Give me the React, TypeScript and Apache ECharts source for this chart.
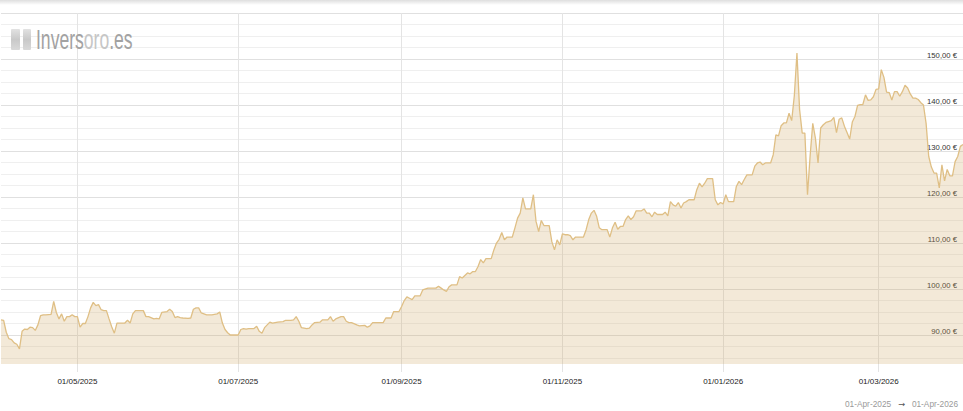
import React, { useEffect, useRef } from "react";
import * as echarts from "echarts";

// ---- data ----
const dates: string[] = [
  "2025-04-02","2025-04-03","2025-04-04","2025-04-05","2025-04-06","2025-04-07","2025-04-08","2025-04-09","2025-04-10","2025-04-11",
  "2025-04-12","2025-04-13","2025-04-14","2025-04-15","2025-04-16","2025-04-17","2025-04-18","2025-04-19","2025-04-21","2025-04-22",
  "2025-04-23","2025-04-24","2025-04-25","2025-04-26","2025-04-27","2025-04-28","2025-04-29","2025-04-30",
  "2025-05-01","2025-05-02","2025-05-03","2025-05-04","2025-05-05","2025-05-06","2025-05-07","2025-05-08","2025-05-09","2025-05-10",
  "2025-05-11","2025-05-12","2025-05-13","2025-05-14","2025-05-15","2025-05-16","2025-05-17","2025-05-19","2025-05-20","2025-05-21",
  "2025-05-22","2025-05-23","2025-05-25","2025-05-26","2025-05-27","2025-05-28","2025-05-30","2025-05-31",
  "2025-06-01","2025-06-02","2025-06-04","2025-06-05","2025-06-06","2025-06-07","2025-06-08","2025-06-09","2025-06-10","2025-06-12",
  "2025-06-13","2025-06-14","2025-06-15","2025-06-16","2025-06-17","2025-06-18","2025-06-19","2025-06-21","2025-06-23","2025-06-24",
  "2025-06-25","2025-06-26","2025-06-27","2025-06-28","2025-06-29",
  "2025-07-01","2025-07-02","2025-07-03","2025-07-04","2025-07-05","2025-07-07","2025-07-08","2025-07-09","2025-07-10","2025-07-11",
  "2025-07-12","2025-07-13","2025-07-14","2025-07-16","2025-07-18","2025-07-19","2025-07-21","2025-07-22","2025-07-23","2025-07-24",
  "2025-07-25","2025-07-27","2025-07-28","2025-07-29","2025-07-30",
  "2025-08-01","2025-08-02","2025-08-04","2025-08-05","2025-08-06","2025-08-07","2025-08-09","2025-08-10","2025-08-11","2025-08-12",
  "2025-08-13","2025-08-15","2025-08-16","2025-08-18","2025-08-19","2025-08-20","2025-08-21","2025-08-23","2025-08-25","2025-08-26",
  "2025-08-28","2025-08-29","2025-08-31",
  "2025-09-01","2025-09-02","2025-09-03","2025-09-04","2025-09-05","2025-09-06","2025-09-08","2025-09-09","2025-09-11","2025-09-12",
  "2025-09-14","2025-09-15","2025-09-16","2025-09-17","2025-09-18","2025-09-19","2025-09-20","2025-09-22","2025-09-23","2025-09-24",
  "2025-09-26","2025-09-27","2025-09-28","2025-09-29","2025-09-30",
  "2025-10-01","2025-10-02","2025-10-03","2025-10-05","2025-10-06","2025-10-07","2025-10-08","2025-10-09","2025-10-10","2025-10-11",
  "2025-10-12","2025-10-13","2025-10-14","2025-10-15","2025-10-16","2025-10-17","2025-10-18","2025-10-19","2025-10-20","2025-10-21",
  "2025-10-22","2025-10-23","2025-10-24","2025-10-25","2025-10-26","2025-10-27","2025-10-28","2025-10-29","2025-10-30","2025-10-31",
  "2025-11-01","2025-11-02","2025-11-03","2025-11-04","2025-11-05","2025-11-06","2025-11-08","2025-11-09","2025-11-10","2025-11-11",
  "2025-11-12","2025-11-13","2025-11-14","2025-11-15","2025-11-16","2025-11-18","2025-11-19","2025-11-20","2025-11-21","2025-11-22",
  "2025-11-23","2025-11-24","2025-11-25","2025-11-26","2025-11-27","2025-11-28","2025-11-29","2025-11-30",
  "2025-12-01","2025-12-02","2025-12-03","2025-12-04","2025-12-05","2025-12-06","2025-12-07","2025-12-08","2025-12-09","2025-12-10",
  "2025-12-11","2025-12-12","2025-12-13","2025-12-14","2025-12-15","2025-12-16","2025-12-17","2025-12-18","2025-12-19","2025-12-20",
  "2025-12-21","2025-12-22","2025-12-23","2025-12-24","2025-12-25","2025-12-26","2025-12-27","2025-12-28","2025-12-29","2025-12-30",
  "2025-12-31",
  "2026-01-01","2026-01-02","2026-01-03","2026-01-04","2026-01-05","2026-01-06","2026-01-07","2026-01-08","2026-01-09","2026-01-10",
  "2026-01-11","2026-01-12","2026-01-13","2026-01-14","2026-01-15","2026-01-16","2026-01-17","2026-01-18","2026-01-19","2026-01-20",
  "2026-01-21","2026-01-22","2026-01-23","2026-01-24","2026-01-25","2026-01-26","2026-01-27","2026-01-28","2026-01-29","2026-01-30",
  "2026-01-31",
  "2026-02-01","2026-02-02","2026-02-03","2026-02-04","2026-02-05","2026-02-06","2026-02-07","2026-02-08","2026-02-09","2026-02-10",
  "2026-02-11","2026-02-12","2026-02-13","2026-02-14","2026-02-15","2026-02-16","2026-02-17","2026-02-18","2026-02-19","2026-02-20",
  "2026-02-21","2026-02-22","2026-02-23","2026-02-24","2026-02-25","2026-02-26","2026-02-27","2026-02-28",
  "2026-03-01","2026-03-02","2026-03-03","2026-03-04","2026-03-05","2026-03-06","2026-03-07","2026-03-08","2026-03-09","2026-03-10",
  "2026-03-11","2026-03-12","2026-03-13","2026-03-14","2026-03-15","2026-03-16","2026-03-17","2026-03-18","2026-03-19","2026-03-20",
  "2026-03-21","2026-03-22","2026-03-23","2026-03-24","2026-03-25","2026-03-26","2026-03-27","2026-03-28","2026-03-29","2026-03-30",
  "2026-03-31","2026-04-01","2026-04-02",
];

const prices: number[] = [
  93.3, 93.2, 90.6, 89.2, 89.0, 88.3, 88.0, 87.0, 90.8, 91.3,
  91.2, 91.7, 91.6, 91.0, 92.2, 94.2, 94.4, 94.4, 94.5, 97.3,
  94.9, 93.5, 94.6, 93.0, 94.0, 94.0, 94.4, 94.0,
  94.0, 91.7, 92.5, 92.5, 94.0, 95.9, 97.1, 96.4, 96.6, 95.5,
  95.3, 95.3, 93.5, 91.8, 90.4, 92.6, 92.6, 92.6, 93.2, 92.6,
  94.6, 95.3, 95.3, 95.3, 94.0, 94.0, 93.5, 93.6,
  93.5, 94.9, 95.1, 95.6, 95.1, 93.8, 94.0, 93.8, 93.7, 93.6,
  93.7, 95.6, 95.9, 95.9, 94.8, 94.6, 94.4, 94.4, 94.6, 95.0,
  92.6, 91.2, 90.5, 90.0, 90.0,
  90.0, 91.2, 91.4, 91.3, 91.4, 91.4, 91.9, 90.8, 90.4, 91.6,
  92.2, 92.8, 92.6, 92.8, 92.9, 93.2, 93.2, 93.3, 94.0, 93.0,
  91.6, 91.4, 91.5, 92.2, 92.7,
  92.8, 93.3, 93.3, 94.0, 93.0, 93.5, 94.0, 94.0, 93.0, 92.7,
  92.7, 92.2, 92.0, 92.1, 91.7, 92.0, 92.7, 92.7, 92.7, 93.7,
  93.7, 95.1, 95.1,
  96.2, 97.5, 98.3, 98.0, 97.7, 98.5, 98.5, 99.8, 100.2, 100.2,
  100.2, 100.6, 100.2, 99.8, 99.5, 100.5, 100.9, 100.9, 102.7, 102.4,
  103.5, 103.3, 103.8, 103.8, 104.9,
  106.4, 105.7, 106.6, 106.6, 108.5, 110.0, 110.8, 112.3, 110.7, 111.3,
  111.3, 111.3, 113.3, 115.4, 116.5, 119.8, 117.4, 117.4, 117.4, 120.5,
  114.7, 112.5, 114.9, 113.8, 113.8, 113.8, 110.3, 108.5, 110.7, 109.6,
  112.0, 111.8, 111.8, 111.6, 110.7, 111.3, 111.3, 111.3, 112.9, 115.1,
  116.5, 117.1, 115.8, 113.3, 112.9, 112.9, 111.3, 113.3, 114.5, 113.0,
  113.6, 113.6, 115.1, 115.9, 115.1, 115.7, 117.0, 117.0,
  117.0, 117.4, 116.5, 116.5, 115.7, 116.7, 116.2, 116.2, 116.2, 116.7,
  115.9, 119.0, 118.3, 118.0, 118.8, 117.6, 118.7, 119.0, 119.4, 119.4,
  119.4, 121.6, 123.0, 122.2, 123.0, 124.0, 124.0, 124.0, 119.4, 118.3,
  118.8,
  118.5, 120.5, 119.0, 119.0, 119.0, 122.3, 123.4, 122.7, 123.8, 124.8,
  124.8, 124.8, 126.7, 127.4, 127.6, 127.0, 127.4, 127.4, 127.4, 129.2,
  133.5, 133.3, 135.5, 136.1, 136.1, 138.2, 136.6, 142.0, 151.3, 139.0,
  133.9,
  133.9, 120.5, 129.0, 136.0, 132.8, 127.4, 135.0, 135.7, 136.2, 136.4,
  136.6, 137.3, 134.0, 136.9, 137.2, 135.4, 134.0, 132.6, 136.3, 137.5,
  139.9, 140.1, 140.1, 142.2, 141.0, 141.1, 141.8, 143.4,
  143.5, 147.7, 146.0, 142.8, 142.7, 141.1, 142.9, 142.9, 141.9, 142.9,
  144.3, 143.7, 142.4, 141.5, 141.5, 141.2, 140.5, 140.0, 136.0, 128.8,
  126.5, 125.2, 125.2, 122.0, 127.0, 123.5, 126.0, 124.6, 124.6, 127.7,
  128.8, 131.0, 131.4,
];

const xRange: string[] = ["2025-04-02", "2026-04-02"];
const xTickDates: string[] = ["2025-05-01", "2025-07-01", "2025-09-01", "2025-11-01", "2026-01-01", "2026-03-01"];
const yRange: number[] = [83.7, 160];
const yGridValues: number[] = [
  85, 87.5, 90, 92.5, 95, 97.5, 100, 102.5, 105, 107.5, 110, 112.5, 115, 117.5, 120, 122.5,
  125, 127.5, 130, 132.5, 135, 137.5, 140, 142.5, 145, 147.5, 150, 152.5, 155, 157.5, 160,
];
const yLabelValues: number[] = [90, 100, 110, 120, 130, 140, 150];
const rangeFrom = "01-Apr-2025";
const rangeTo = "01-Apr-2026";
const logoParts: string[] = ["Invers", "oro", ".es"];

// ---- helpers ----
function toTime(s: string): number {
  const [y, m, d] = s.split("-").map(Number);
  return Date.UTC(y, m - 1, d);
}
function pad(n: number): string {
  return n < 10 ? "0" + n : String(n);
}
function fmtDate(v: number): string {
  const d = new Date(v);
  return pad(d.getUTCDate()) + "/" + pad(d.getUTCMonth() + 1) + "/" + d.getUTCFullYear();
}
function fmtEuro(v: number): string {
  return v.toFixed(2).replace(".", ",") + " €";
}

const FONT = "'Liberation Sans', Arial, Helvetica, sans-serif";
const MINOR = "#efefef";
const MAJOR = "#e0e0e0";
const VGRID = "#e4e4e4";

export default function App() {
  const ref = useRef<HTMLDivElement>(null);

  useEffect(() => {
    if (!ref.current) return;
    const chart = echarts.init(ref.current, null, { renderer: "svg" });
    const xTicks = xTickDates.map(toTime);
    const seriesData = dates.map((d, i) => [toTime(d), prices[i]]);

    chart.setOption({
      animation: false,
      backgroundColor: "#ffffff",
      grid: { left: 1, right: 0, top: 13, bottom: 47, containLabel: false, outerBoundsMode: "none" },
      xAxis: {
        type: "value",
        min: toTime(xRange[0]),
        max: toTime(xRange[1]),
        axisLine: { show: false },
        axisTick: { show: true, length: 8, customValues: xTicks, lineStyle: { color: VGRID, width: 1 } },
        axisLabel: {
          customValues: xTicks,
          formatter: (v: number) => fmtDate(v),
          color: "#222",
          fontSize: 8,
          fontFamily: FONT,
          margin: 13,
          hideOverlap: false,
        },
        splitLine: { show: true, lineStyle: { color: VGRID, width: 1 } },
      },
      yAxis: {
        type: "value",
        position: "right",
        min: yRange[0],
        max: yRange[1],
        axisLine: { show: false },
        axisTick: { show: false, customValues: yGridValues },
        axisLabel: {
          inside: true,
          customValues: yLabelValues,
          formatter: (v: number) => fmtEuro(v),
          margin: 6,
          verticalAlign: "bottom",
          color: "#333",
          fontSize: 7.7,
          fontFamily: FONT,
        },
        splitLine: { show: true, lineStyle: { color: [MINOR, MINOR, MAJOR, MINOR], width: 1 } },
      },
      series: [
        {
          type: "line",
          data: seriesData,
          symbol: "none",
          showSymbol: false,
          silent: true,
          lineStyle: { color: "#dfbf85", width: 1.3 },
          areaStyle: { color: "rgba(207,165,95,0.35)", origin: "start" },
        },
      ],
      graphic: [
        {
          type: "rect",
          silent: true,
          z: 100,
          shape: { x: 0, y: 0, width: 963, height: 5 },
          style: {
            fill: new echarts.graphic.LinearGradient(0, 0, 0, 1, [
              { offset: 0, color: "rgba(0,0,0,0.13)" },
              { offset: 1, color: "rgba(0,0,0,0)" },
            ]),
          },
        },
        {
          type: "rect",
          silent: true,
          z: 100,
          shape: { x: 11, y: 29, width: 9, height: 21, r: 1 },
          style: {
            fill: new echarts.graphic.LinearGradient(0, 0, 0, 1, [
              { offset: 0, color: "#e2e2e2" },
              { offset: 0.5, color: "#c9c9c9" },
              { offset: 1, color: "#d9d9d9" },
            ]),
          },
        },
        {
          type: "rect",
          silent: true,
          z: 100,
          shape: { x: 23, y: 29, width: 8, height: 21, r: 1 },
          style: {
            fill: new echarts.graphic.LinearGradient(0, 0, 0, 1, [
              { offset: 0, color: "#e2e2e2" },
              { offset: 0.5, color: "#c9c9c9" },
              { offset: 1, color: "#d9d9d9" },
            ]),
          },
        },
        {
          type: "text",
          silent: true,
          z: 100,
          x: 36,
          y: 40,
          scaleX: 0.65,
          style: {
            text: "{a|" + logoParts[0] + "}{b|" + logoParts[1] + "}{a|" + logoParts[2] + "}",
            verticalAlign: "middle",
            align: "left",
            fontSize: 27,
            fontFamily: FONT,
            rich: {
              a: { fill: "#a2a2a2", fontSize: 27, fontFamily: FONT },
              b: { fill: "#c6c6c6", fontSize: 27, fontFamily: FONT },
            },
          },
        },
        {
          type: "text",
          silent: true,
          z: 100,
          x: 958,
          y: 404,
          style: {
            text: "{d|" + rangeFrom + "}   {r|→}   {d|" + rangeTo + "}",
            align: "right",
            verticalAlign: "middle",
            fontSize: 8.3,
            fontFamily: FONT,
            rich: {
              d: { fill: "#9a9a9a", fontSize: 8.3, fontFamily: FONT },
              r: { fill: "#555555", fontSize: 8.3, fontFamily: "'DejaVu Sans', " + FONT },
            },
          },
        },
      ],
    });

    return () => chart.dispose();
  }, []);

  return (
    <div
      ref={ref}
      style={{ position: "fixed", left: 0, top: 0, width: 963, height: 411, background: "#fff" }}
    />
  );
}
